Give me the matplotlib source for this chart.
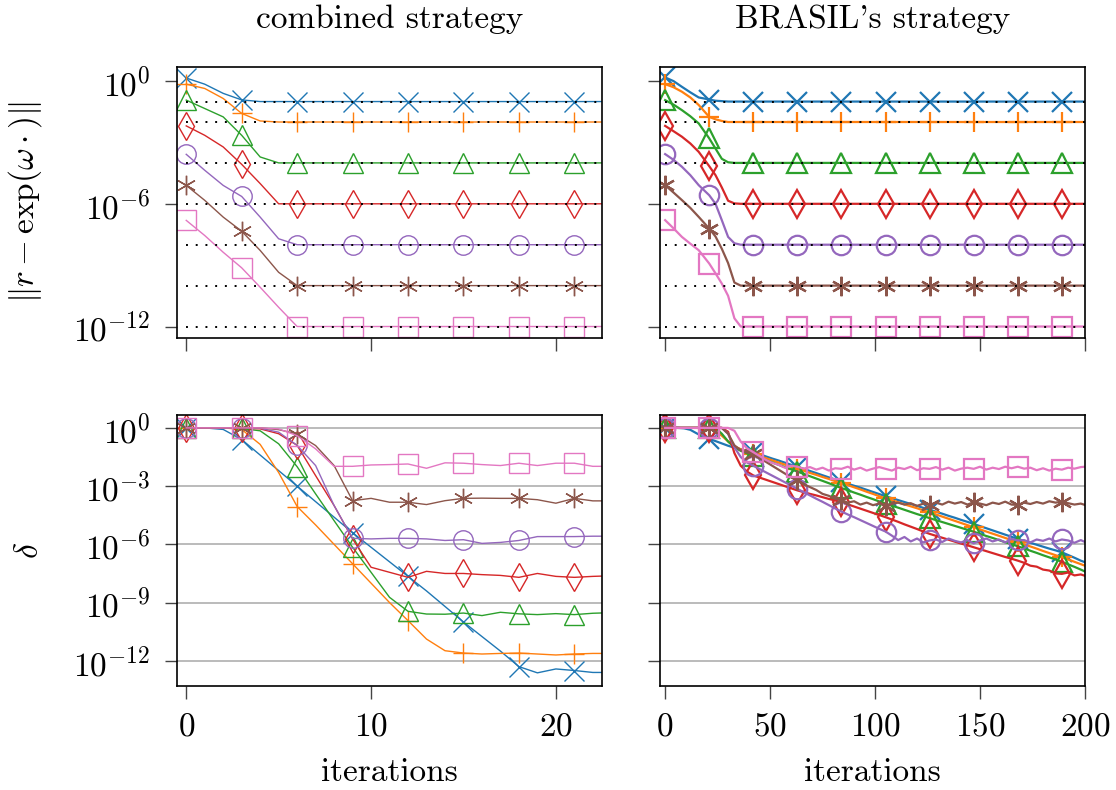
import numpy as np
import matplotlib
matplotlib.use("Agg")
import matplotlib.pyplot as plt
from matplotlib.ticker import FixedLocator, NullLocator, LogFormatterSciNotation

plt.rcParams["font.family"] = ["cmr10", "DejaVu Serif"]
plt.rcParams["mathtext.fontset"] = "cm"
plt.rcParams["axes.formatter.use_mathtext"] = True
plt.rcParams["font.size"] = 24

# series styles (color, marker)
colors = ["#1f77b4", "#ff7f0e", "#2ca02c", "#d62728", "#9467bd", "#8c564b", "#e377c2"]
markers = ["x", "+", "^", "d", "o", (6, 2, 0), "s"]

# top row: log10 of ||r - exp(w.)||, reference levels
levels = [-1, -2, -4, -6, -8, -10, -12]

# combined strategy, one value per iteration 0..23
it_comb = list(range(24))
top_comb = [
    [0.15, -0.15, -0.6, -0.92] + [-1.0] * 20,
    [-0.15, -0.36, -0.85, -1.58, -1.95] + [-2.0] * 19,
    [-0.93, -1.34, -1.75, -2.65, -3.71] + [-4.0] * 19,
    [-2.19, -2.65, -3.22, -4.07, -5.01] + [-6.0] * 19,
    [-3.58, -4.36, -5.1, -5.64, -6.65, -7.71] + [-8.0] * 18,
    [-5.1, -5.83, -6.65, -7.34, -8.28, -9.35] + [-10.0] * 18,
    [-6.81, -7.55, -8.37, -9.13, -10.08, -11.06] + [-12.0] * 18,
]

# BRASIL's strategy (sampled iterations)
it_bras_top = [0, 4, 8, 12, 16, 21, 24, 27, 30, 33, 36, 42, 63, 84, 105, 126, 147, 168, 189, 200]
top_bras = [
    [0.18, 0.0, -0.28, -0.55, -0.8, -0.9, -0.96, -0.98] + [-1.0] * 12,
    [-0.15, -0.3, -0.52, -0.8, -1.17, -1.75, -1.87, -1.95] + [-2.0] * 12,
    [-0.93, -1.15, -1.42, -1.72, -2.07, -2.8, -3.3, -3.8, -3.97] + [-4.0] * 11,
    [-2.19, -2.45, -2.72, -3.05, -3.46, -4.16, -4.6, -5.2, -5.85, -5.98] + [-6.0] * 10,
    [-3.57, -3.85, -4.19, -4.6, -5.09, -5.58, -6.0, -6.8, -7.62, -7.93] + [-8.0] * 10,
    [-5.09, -5.45, -5.82, -6.2, -6.64, -7.21, -7.6, -8.2, -8.9, -9.85] + [-10.0] * 10,
    [-6.8, -7.2, -7.62, -7.95, -8.27, -8.92, -9.4, -9.9, -10.5, -11.6] + [-12.0] * 10,
]

# bottom row: log10 of delta
bot_comb = [
    [0, 0, -0.08, -0.6, -1.4, -2.2, -3.0, -3.8, -4.6, -5.4, -6.15, -6.9, -7.65, -8.4,
     -9.2, -10.0, -10.75, -11.5, -12.3, -12.62, -12.42, -12.5, -12.6, -12.6],
    [0, 0, 0, -0.08, -0.85, -2.3, -4.05, -5.0, -6.0, -7.0, -8.0, -9.0, -9.93, -10.88,
     -11.48, -11.6, -11.65, -11.62, -11.6, -11.65, -11.7, -11.65, -11.62, -11.62],
    [0, 0, 0, -0.03, -0.15, -0.82, -2.0, -3.4, -4.78, -6.15, -7.44, -8.73, -9.45, -9.59,
     -9.6, -9.54, -9.67, -9.5, -9.58, -9.62, -9.57, -9.62, -9.55, -9.52],
    [0, 0, 0, 0, -0.05, -0.3, -0.9, -2.46, -4.0, -5.72, -7.18, -7.44, -7.7, -7.39,
     -7.5, -7.5, -7.56, -7.6, -7.7, -7.5, -7.65, -7.7, -7.65, -7.62],
    [0, 0, 0, 0, -0.02, -0.22, -0.9, -1.94, -4.0, -5.69, -5.72, -5.69, -5.69, -5.72,
     -5.8, -5.76, -5.95, -5.9, -5.8, -5.6, -5.6, -5.6, -5.58, -5.58],
    [0, 0, 0, 0, 0, -0.09, -0.31, -0.91, -1.94, -3.75, -3.63, -3.83, -3.83, -3.95,
     -3.75, -3.63, -3.62, -3.63, -3.63, -3.7, -3.88, -3.63, -3.76, -3.76],
    [0, 0, 0, 0, 0, -0.05, -0.4, -1.08, -1.98, -1.98, -1.91, -1.89, -1.86, -2.08,
     -1.8, -1.82, -1.89, -1.94, -1.82, -1.94, -1.82, -1.82, -1.98, -1.98],
]

it_bras_bot = list(range(0, 199, 3)) + [200]
bot_bras = [
    [0, 0, 0, -0.02, -0.1, -0.28, -0.45, -0.57, -0.68, -0.8, -0.92, -1.02, -1.1, -1.18, -1.25,
     -1.36, -1.47, -1.58, -1.68, -1.79, -1.9, -2.01, -2.11, -2.22, -2.33, -2.44, -2.55, -2.66, -2.78,
     -2.88, -2.98, -3.08, -3.19, -3.3, -3.41, -3.52, -3.62, -3.72, -3.82, -3.92, -4.02, -4.12, -4.21,
     -4.32, -4.42, -4.53, -4.63, -4.74, -4.84, -4.95, -5.06, -5.17, -5.28, -5.39, -5.5, -5.61, -5.72,
     -5.82, -5.92, -6.02, -6.12, -6.22, -6.31, -6.41, -6.55, -6.69, -6.84, -6.92],
    [0, 0, 0, 0, 0, 0, -0.02, -0.05, -0.15, -0.4, -0.7, -0.95, -1.1, -1.22, -1.34,
     -1.45, -1.56, -1.67, -1.78, -1.89, -2.0, -2.11, -2.21, -2.32, -2.42, -2.53, -2.63, -2.74, -2.84,
     -2.95, -3.06, -3.17, -3.29, -3.4, -3.52, -3.63, -3.73, -3.83, -3.94, -4.04, -4.14, -4.25, -4.35,
     -4.46, -4.57, -4.68, -4.79, -4.9, -5.01, -5.12, -5.23, -5.34, -5.45, -5.56, -5.67, -5.78, -5.89,
     -6.0, -6.11, -6.22, -6.34, -6.45, -6.56, -6.67, -6.78, -6.9, -7.02, -7.1],
    [0, 0, 0, 0, 0, 0, 0, 0, 0, -0.3, -0.7, -1.0, -1.18, -1.31, -1.43,
     -1.55, -1.66, -1.78, -1.9, -2.02, -2.13, -2.25, -2.37, -2.49, -2.61, -2.73, -2.85, -2.98, -3.1,
     -3.21, -3.33, -3.44, -3.56, -3.67, -3.79, -3.9, -4.01, -4.11, -4.22, -4.33, -4.44, -4.54, -4.65,
     -4.75, -4.85, -4.95, -5.05, -5.15, -5.25, -5.35, -5.46, -5.57, -5.67, -5.78, -5.89, -5.99, -6.1,
     -6.21, -6.33, -6.44, -6.56, -6.67, -6.78, -6.9, -7.03, -7.16, -7.3, -7.4],
    [0, 0, 0, 0, 0, 0, 0, 0, 0, 0, -0.2, -1.3, -1.95, -2.25, -2.45,
     -2.56, -2.67, -2.78, -2.89, -3.0, -3.11, -3.22, -3.31, -3.4, -3.48, -3.57, -3.66, -3.74, -3.83,
     -3.94, -4.05, -4.16, -4.27, -4.38, -4.49, -4.6, -4.72, -4.84, -4.97, -5.09, -5.21, -5.34, -5.46,
     -5.56, -5.66, -5.76, -5.86, -5.96, -6.05, -6.15, -6.25, -6.35, -6.45, -6.55, -6.65, -6.74, -6.84,
     -6.95, -7.1, -7.15, -7.3, -7.35, -7.5, -7.52, -7.45, -7.6, -7.55, -7.62],
    [0, 0, 0, 0, 0, 0, 0, 0, 0, 0, -0.3, -1.0, -1.5, -1.78, -1.95,
     -2.12, -2.29, -2.46, -2.63, -2.8, -2.97, -3.14, -3.31, -3.48, -3.65, -3.81, -3.98, -4.15, -4.31,
     -4.46, -4.6, -4.75, -4.9, -5.05, -5.2, -5.34, -5.55, -5.78, -5.62, -5.85, -5.7, -5.9, -5.8,
     -5.75, -5.88, -5.7, -5.82, -5.9, -5.78, -5.95, -5.8, -5.7, -5.85, -5.75, -5.9, -5.72, -5.8,
     -5.78, -5.9, -5.75, -5.82, -5.7, -5.85, -5.75, -5.8, -5.92, -5.78, -5.88],
    [0, 0, 0, 0, 0, 0, 0, 0, 0, 0, -0.3, -0.9, -1.15, -1.27, -1.34,
     -1.55, -1.75, -1.95, -2.15, -2.35, -2.55, -2.71, -2.9, -3.05, -3.2, -3.4, -3.5, -3.65, -3.72,
     -3.85, -3.78, -3.95, -3.85, -3.98, -3.9, -4.0, -3.92, -3.85, -3.95, -3.88, -4.02, -3.9, -3.97,
     -3.85, -3.95, -3.8, -3.9, -3.82, -3.95, -3.83, -3.9, -3.98, -3.85, -3.92, -3.8, -3.95, -3.97,
     -3.85, -3.92, -3.82, -3.9, -3.78, -3.85, -3.8, -3.88, -3.95, -3.9, -3.97],
    [0, 0, 0, 0, 0, 0, 0, 0, 0, 0, 0, -0.15, -0.7, -1.05, -1.25,
     -1.45, -1.65, -1.8, -1.9, -2.05, -1.95, -2.0, -2.1, -2.02, -2.15, -2.05, -2.2, -2.08, -2.11,
     -2.0, -2.15, -2.05, -2.2, -2.1, -2.02, -2.11, -2.2, -2.05, -2.12, -2.0, -2.18, -2.08, -2.11,
     -2.02, -2.15, -2.05, -2.2, -2.1, -2.05, -2.11, -2.0, -2.15, -2.05, -2.12, -2.0, -2.08, -2.0,
     -2.1, -2.05, -2.18, -2.08, -2.2, -2.1, -2.15, -2.05, -2.1, -2.02, -2.0],
]

titles = ["combined strategy", "BRASIL's strategy"]

fig, axes = plt.subplots(2, 2, figsize=(11.16, 7.9), dpi=100, sharey="row")
fig.subplots_adjust(left=0.1586, right=0.9722, top=0.9152, bottom=0.1316,
                    wspace=0.136, hspace=0.288)

ax_tl, ax_tr = axes[0]
ax_bl, ax_br = axes[1]

mk_tr = [i for i, x in enumerate(it_bras_top) if x % 21 == 0]

for k in range(7):
    ax_tl.plot(it_comb, 10.0 ** np.array(top_comb[k]), color=colors[k], lw=1.0,
               marker=markers[k], ms=14, mfc="none", mew=1.0, markevery=3)
    ax_tr.plot(it_bras_top, 10.0 ** np.array(top_bras[k]), color=colors[k], lw=1.6,
               marker=markers[k], ms=14, mfc="none", mew=1.6, markevery=mk_tr)
    ax_bl.plot(it_comb, 10.0 ** np.array(bot_comb[k]), color=colors[k], lw=1.0,
               marker=markers[k], ms=14, mfc="none", mew=1.0, markevery=3)
    ax_br.plot(it_bras_bot, 10.0 ** np.array(bot_bras[k]), color=colors[k], lw=1.6,
               marker=markers[k], ms=14, mfc="none", mew=1.6, markevery=7)

for lv in levels:
    ax_tl.plot([0, 23], [10.0 ** lv] * 2, color="black", lw=1.4, ls=(0, (1, 4)), zorder=3)
    ax_tr.plot([0, 200], [10.0 ** lv] * 2, color="black", lw=1.4, ls=(0, (1, 4)), zorder=3)

for ax in axes.flat:
    ax.set_yscale("log")
    ax.yaxis.set_minor_locator(NullLocator())
    ax.tick_params(direction="out", length=9, width=1.0, color="#444444", pad=10)
    for sp in ax.spines.values():
        sp.set_linewidth(1.2)

ax_tl.set_ylim(10 ** -12.54, 10 ** 0.69)
ax_tl.yaxis.set_major_locator(FixedLocator([1e0, 1e-6, 1e-12]))
ax_bl.set_ylim(10 ** -13.3, 10 ** 0.64)
ax_bl.yaxis.set_major_locator(FixedLocator([1e0, 1e-3, 1e-6, 1e-9, 1e-12]))
for ax in axes[:, 0]:
    ax.yaxis.set_major_formatter(LogFormatterSciNotation())

for ax in axes[0]:
    ax.tick_params(labelbottom=False)
for ax in axes[1]:
    ax.grid(axis="y", color="#b5b5b5", lw=1.3)
    ax.set_axisbelow(True)
    ax.set_xlabel("iterations", labelpad=12)

for ax in axes[:, 0]:
    ax.set_xlim(-0.5, 22.5)
    ax.set_xticks([0, 10, 20])
for ax in axes[:, 1]:
    ax.set_xlim(-2.5, 200)
    ax.set_xticks([0, 50, 100, 150, 200])

ax_tl.set_title(titles[0], fontsize=24, pad=28)
ax_tr.set_title(titles[1], fontsize=24, pad=28)
ax_tl.set_ylabel(r"$\|r - \exp(\omega\cdot)\|$")
ax_bl.set_ylabel(r"$\delta$")
ax_tl.yaxis.set_label_coords(-0.313, 0.5)
ax_bl.yaxis.set_label_coords(-0.313, 0.5)

fig.savefig("out.png", dpi=100)
